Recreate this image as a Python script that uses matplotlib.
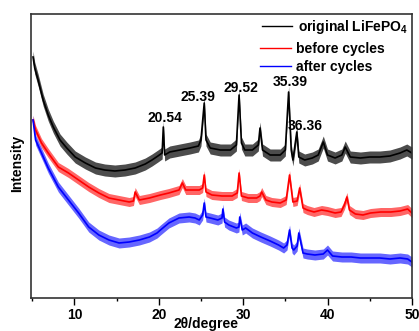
import matplotlib
matplotlib.use("Agg")
import matplotlib.pyplot as plt
import numpy as np

plt.rcParams['font.family'] = ['Liberation Sans', 'DejaVu Sans']
plt.rcParams['font.weight'] = 'bold'
plt.rcParams['mathtext.fontset'] = 'custom'
plt.rcParams['mathtext.rm'] = 'Liberation Sans:bold'
plt.rcParams['mathtext.bf'] = 'Liberation Sans:bold'

# 2theta (deg) / intensity (a.u.)
orig_x = [5.1, 5.3, 5.7, 6.3, 6.9, 7.5, 8.3, 9.1, 10.1, 11.3, 12.5, 13.6, 14.8, 16.0,
          17.2, 18.4, 19.2, 19.9, 20.4, 20.54, 20.7, 21.3, 22.5, 23.7, 24.7, 25.0,
          25.39, 25.6, 26.1, 27.3, 28.5, 29.2, 29.52, 29.8, 30.2, 31.1, 31.8, 32.0,
          32.3, 33.2, 34.4, 35.0, 35.39, 35.7, 35.9, 36.36, 36.6, 37.3, 38.2, 38.9,
          39.5, 40.0, 40.9, 41.7, 42.1, 42.7, 43.9, 45.0, 46.2, 47.4, 48.6, 49.4, 50.0]
orig_y = [243, 232, 220, 200, 185, 173, 160, 152, 143, 137, 132, 130, 129, 130,
          132, 136, 140, 144, 147, 173, 145, 148, 150, 152, 154, 160,
          197, 160, 152, 150, 150, 155, 205, 157, 150, 150, 155, 172,
          150, 145, 145, 150, 208, 150, 140, 168, 143, 140, 142, 145,
          158, 145, 142, 145, 153, 143, 142, 143, 143, 144, 147, 150, 147]

before_x = [5.1, 5.4, 6.1, 6.9, 8.1, 9.3, 10.5, 11.7, 12.9, 14.1, 15.3, 16.5, 17.0,
            17.2, 17.7, 18.9, 20.2, 21.2, 22.4, 22.8, 23.2, 23.6, 24.8, 25.2, 25.39,
            25.6, 26.3, 27.5, 28.7, 29.3, 29.52, 29.8, 30.6, 31.6, 32.0, 32.2, 32.7,
            33.4, 34.4, 35.1, 35.5, 35.9, 36.4, 36.7, 37.1, 37.6, 38.4, 39.3, 40.0,
            40.9, 41.6, 42.0, 42.3, 42.6, 43.3, 44.2, 45.1, 46.3, 47.5, 48.6, 49.5, 50.0]
before_y = [180, 170, 157, 147, 133, 127, 120, 113, 107, 102, 100, 98, 99,
            108, 100, 102, 105, 107, 110, 117, 110, 110, 110, 112, 125,
            108, 105, 104, 104, 107, 127, 104, 102, 102, 104, 108, 100,
            98, 97, 100, 125, 98, 99, 112, 92, 90, 88, 90, 89,
            87, 88, 95, 103, 90, 86, 85, 87, 88, 88, 89, 91, 87]

after_x = [5.1, 5.4, 6.1, 6.9, 8.1, 9.3, 10.5, 11.7, 12.9, 14.1, 15.3, 16.5, 17.7,
           18.9, 19.8, 20.2, 21.2, 22.4, 23.6, 24.3, 24.8, 25.2, 25.39, 25.6, 26.1,
           27.0, 27.5, 27.6, 27.8, 28.3, 29.2, 29.5, 29.6, 29.9, 30.3, 31.1, 32.1,
           33.2, 34.2, 34.8, 35.2, 35.5, 35.8, 36.0, 36.4, 36.6, 36.9, 37.1, 37.6,
           38.5, 39.5, 40.0, 40.6, 41.7, 42.8, 43.9, 45.0, 46.2, 47.4, 48.6, 49.5, 50.0]
after_y = [180, 160, 147, 132, 113, 100, 87, 73, 65, 60, 57, 58, 60,
           63, 67, 70, 77, 82, 83, 82, 80, 85, 97, 83, 82,
           80, 82, 91, 78, 75, 72, 73, 83, 70, 72, 67, 63,
           59, 55, 52, 55, 70, 52, 50, 54, 67, 55, 47, 46,
           45, 46, 50, 44, 43, 43, 42, 42, 42, 41, 42, 41, 38]

peak_lbl = ['20.54', '25.39', '29.52', '35.39', '36.36']
lbl_x = [20.76, 24.67, 29.76, 35.57, 37.35]
lbl_y = [182, 203, 212, 218, 174]

fig = plt.figure(figsize=(4.19, 3.31), dpi=100)
ax = fig.add_axes([0.074, 0.0997, 0.909, 0.858])

series = [(orig_x, orig_y, 'black', 6, 0.7, 'original LiFePO$_{\\mathbf{4}}$'),
          (before_x, before_y, '#ff0000', 4.5, 0.6, 'before cycles'),
          (after_x, after_y, '#0000ff', 5, 0.6, 'after cycles')]
handles = []
for xs, ys, c, w, a, name in series:
    xs = np.array(xs)
    ys = np.array(ys, dtype=float)
    # noise band around the trace
    ax.fill_between(xs, ys - w, ys + w, color=c, alpha=a, lw=0)
    ax.plot(xs, ys, color=c, lw=1.2)
    h, = ax.plot([], [], color=c, lw=1.0, label=name)
    handles.append(h)

for t, px, py in zip(peak_lbl, lbl_x, lbl_y):
    ax.text(px, py, t, ha='center', va='center', fontsize=10, fontweight='bold')

ax.set_xlim(4.86, 50)
ax.set_ylim(2, 286)
ax.set_xticks([10, 20, 30, 40, 50])
ax.set_xticks([5, 15, 25, 35, 45], minor=True)
ax.set_yticks([])
ax.tick_params(axis='x', which='major', direction='out', length=5, width=1, labelsize=10, pad=2)
ax.tick_params(axis='x', which='minor', direction='out', length=2.5, width=1)
for lab in ax.get_xticklabels():
    lab.set_fontweight('bold')
for s in ax.spines.values():
    s.set_linewidth(1.2)
    s.set_color('#333333')

ax.set_xlabel('2θ/degree', fontsize=10, fontweight='bold')
ax.xaxis.set_label_coords(0.46, -0.068)
ax.set_ylabel('Intensity', fontsize=10, fontweight='bold')
ax.yaxis.set_label_coords(-0.017, 0.475)

leg_kw = dict(frameon=False, fontsize=10, handlelength=2.2, handletextpad=0.4,
              labelspacing=0.3, borderaxespad=0.0, borderpad=0.0)
leg1 = ax.legend(handles=handles[:1], loc='upper right',
                 bbox_to_anchor=(0.99, 0.985), **leg_kw)
for t in leg1.get_texts():
    t.set_fontweight('bold')
ax.add_artist(leg1)
leg2 = ax.legend(handles=handles[1:], loc='upper left',
                 bbox_to_anchor=(0.602, 0.901), **leg_kw)
for t in leg2.get_texts():
    t.set_fontweight('bold')

fig.savefig('out.png', dpi=100)
